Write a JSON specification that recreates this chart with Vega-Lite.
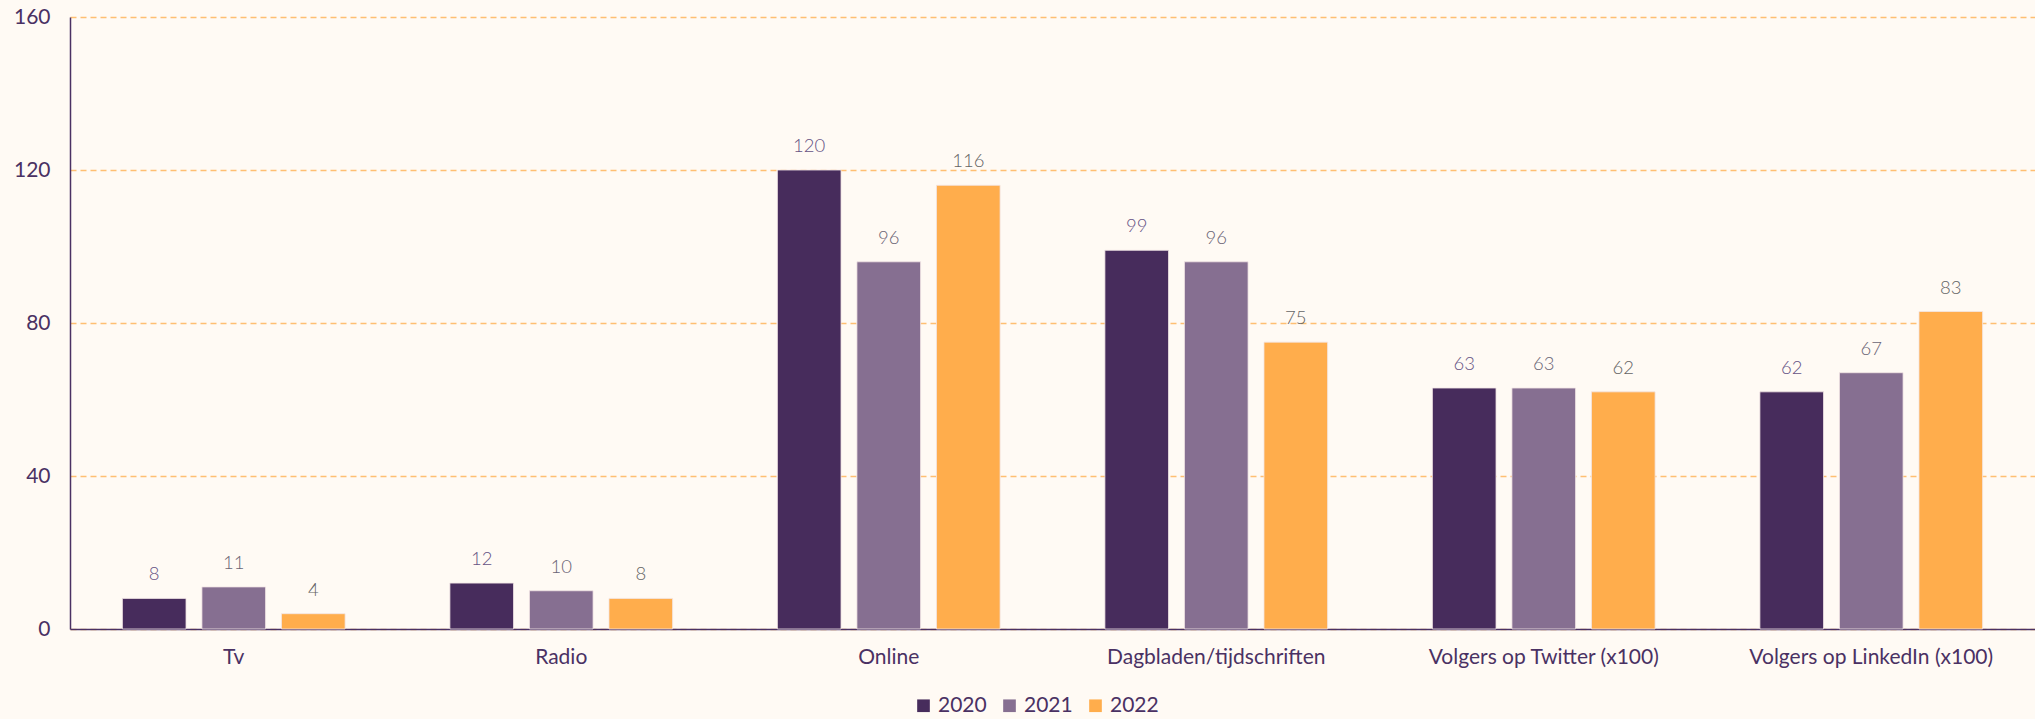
{
  "$schema": "https://vega.github.io/schema/vega-lite/v6.json",
  "width": 1965,
  "height": 612,
  "autosize": {"type": "none"},
  "padding": {"left": 70, "top": 17, "right": 0, "bottom": 90},
  "background": "#fffaf4",
  "config": {
    "view": {"stroke": null},
    "font": "Lato"
  },
  "data": {
    "values": [
      {"cat": "Tv", "year": "2020", "value": 8},
      {"cat": "Tv", "year": "2021", "value": 11},
      {"cat": "Tv", "year": "2022", "value": 4},
      {"cat": "Radio", "year": "2020", "value": 12},
      {"cat": "Radio", "year": "2021", "value": 10},
      {"cat": "Radio", "year": "2022", "value": 8},
      {"cat": "Online", "year": "2020", "value": 120},
      {"cat": "Online", "year": "2021", "value": 96},
      {"cat": "Online", "year": "2022", "value": 116},
      {"cat": "Dagbladen/tijdschriften", "year": "2020", "value": 99},
      {"cat": "Dagbladen/tijdschriften", "year": "2021", "value": 96},
      {"cat": "Dagbladen/tijdschriften", "year": "2022", "value": 75},
      {"cat": "Volgers op Twitter (x100)", "year": "2020", "value": 63},
      {"cat": "Volgers op Twitter (x100)", "year": "2021", "value": 63},
      {"cat": "Volgers op Twitter (x100)", "year": "2022", "value": 62},
      {"cat": "Volgers op LinkedIn (x100)", "year": "2020", "value": 62},
      {"cat": "Volgers op LinkedIn (x100)", "year": "2021", "value": 67},
      {"cat": "Volgers op LinkedIn (x100)", "year": "2022", "value": 83}
    ]
  },
  "encoding": {
    "x": {
      "field": "cat",
      "type": "nominal",
      "sort": null,
      "scale": {"paddingInner": 0.32, "paddingOuter": 0.16},
      "axis": {
        "title": null,
        "labelAngle": 0,
        "labelLimit": 0,
        "labelFont": "Lato",
        "labelFontSize": 21,
        "labelColor": "#4a3163",
        "labelPadding": 17,
        "ticks": false,
        "domainColor": "#4a3163",
        "domainWidth": 1.5,
        "grid": false
      }
    },
    "xOffset": {
      "field": "year",
      "type": "nominal",
      "scale": {"paddingInner": 0.2, "paddingOuter": 0}
    },
    "y": {
      "field": "value",
      "type": "quantitative",
      "scale": {"domain": [0, 160]},
      "axis": {
        "title": null,
        "values": [0, 40, 80, 120, 160],
        "labelFont": "Lato",
        "labelFontSize": 21,
        "labelColor": "#4a3163",
        "labelPadding": 20,
        "ticks": false,
        "domainColor": "#4a3163",
        "domainWidth": 1.5,
        "gridColor": "#ffbf72",
        "gridOpacity": 1,
        "gridDash": [6, 4],
        "gridWidth": 1.5
      }
    }
  },
  "layer": [
    {
      "mark": {"type": "bar", "stroke": "#f3e6e6", "strokeWidth": 0.8},
      "encoding": {
        "color": {
          "field": "year",
          "type": "nominal",
          "scale": {"domain": ["2020", "2021", "2022"], "range": ["#472c5c", "#866f91", "#ffad4c"]},
          "legend": {
            "title": null,
            "orient": "none",
            "direction": "horizontal",
            "legendX": 843,
            "legendY": 678,
            "symbolType": "square",
            "symbolSize": 160,
            "symbolStrokeWidth": 0,
            "labelFont": "Lato",
            "labelFontSize": 21,
            "labelColor": "#4a3163",
            "columnPadding": 12,
            "labelOffset": 4
          }
        }
      }
    },
    {
      "mark": {"type": "text", "baseline": "bottom", "dy": -14, "fontSize": 18.5, "fontWeight": 300, "font": "Lato"},
      "encoding": {
        "text": {"field": "value", "type": "quantitative"},
        "color": {
          "field": "year",
          "type": "nominal",
          "scale": {"domain": ["2020", "2021", "2022"], "range": ["#665284", "#6a6474", "#646464"]},
          "legend": null
        }
      }
    }
  ],
  "resolve": {"scale": {"color": "independent"}}
}
